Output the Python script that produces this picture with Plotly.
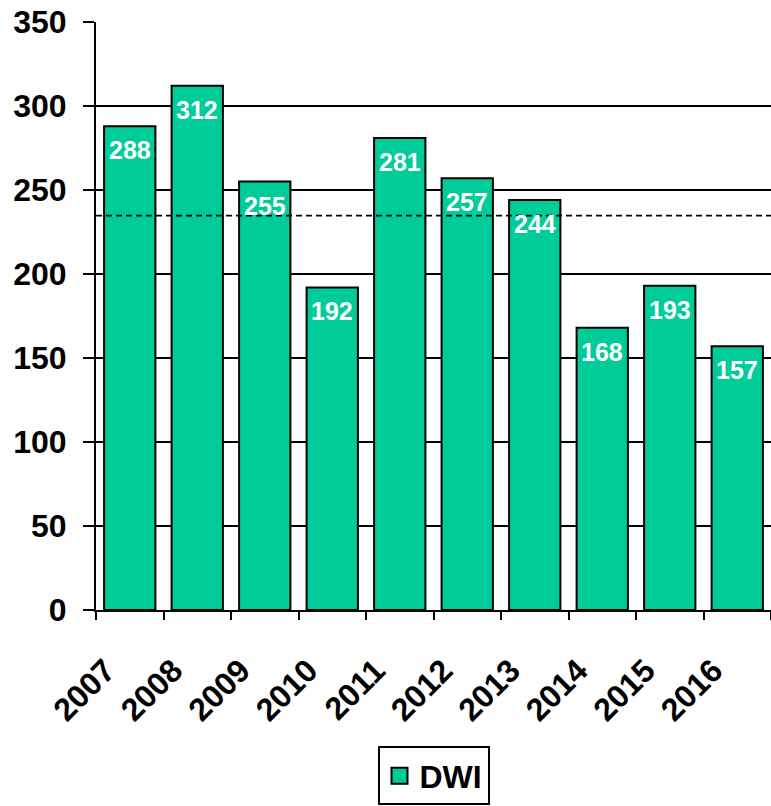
import plotly.graph_objects as go

years = ["2007", "2008", "2009", "2010", "2011", "2012", "2013", "2014", "2015", "2016"]
dwi = [288, 312, 255, 192, 281, 257, 244, 168, 193, 157]
series_name = "DWI"
y_ticks = [0, 50, 100, 150, 200, 250, 300, 350]

mean_val = sum(dwi) / len(dwi)

FONT = "Liberation Sans, Arial, sans-serif"
GREEN = "#00CC99"

fig = go.Figure()
fig.add_trace(go.Bar(
    x=years, y=dwi, name=series_name, showlegend=False,
    marker=dict(color=GREEN, line=dict(color="black", width=2)),
    hoverinfo="skip",
))
fig.add_trace(go.Scatter(
    x=[None], y=[None], mode="markers", name=series_name,
    marker=dict(symbol="square", size=16, color=GREEN, line=dict(color="black", width=2)),
))

# value labels inside the bars, near the top (x = category index)
for i, v in enumerate(dwi):
    fig.add_annotation(
        x=i, y=v, xref="x", yref="y", text=str(v), showarrow=False,
        yanchor="top", yshift=-8,
        font=dict(family=FONT, size=25, color="white", weight="bold"),
    )

fig.add_shape(type="line", xref="paper", x0=0, x1=1, yref="y", y0=mean_val, y1=mean_val,
              line=dict(color="black", width=1.8, dash="6px,4px"), layer="above")

fig.update_layout(
    width=771, height=806,
    margin=dict(l=96, r=0, t=22, b=193),
    paper_bgcolor="white", plot_bgcolor="white",
    bargap=0.24,
    font=dict(family=FONT, size=32, color="black", weight="bold"),
    legend=dict(
        orientation="h", x=0.5, xanchor="center", y=-0.232, yanchor="top",
        bordercolor="black", borderwidth=2, bgcolor="white",
        font=dict(family=FONT, size=32, color="black", weight="bold"),
        itemwidth=30,
    ),
    xaxis=dict(
        type="category", range=[-0.5, 9.5],
        tickangle=-45, tickson="boundaries", ticks="outside", ticklen=8, tickwidth=2,
        tickcolor="black", showline=True, linecolor="black", linewidth=2,
        showgrid=False, zeroline=False,
        ticklabelshift=-24, ticklabelstandoff=27,
        tickfont=dict(family=FONT, size=32, color="black", weight="bold"),
    ),
    yaxis=dict(
        range=[0, 350], tickvals=y_ticks, ticks="outside", ticklen=11, tickwidth=2,
        tickcolor="black", showline=True, linecolor="black", linewidth=2,
        showgrid=True, gridcolor="black", gridwidth=2, zeroline=False,
        ticklabelstandoff=10,
        tickfont=dict(family=FONT, size=32, color="black", weight="bold"),
    ),
)

fig.write_html(
    "out.html",
    config={"displayModeBar": False},
    post_script="document.body.style.margin='0';document.body.style.overflow='hidden';",
)
